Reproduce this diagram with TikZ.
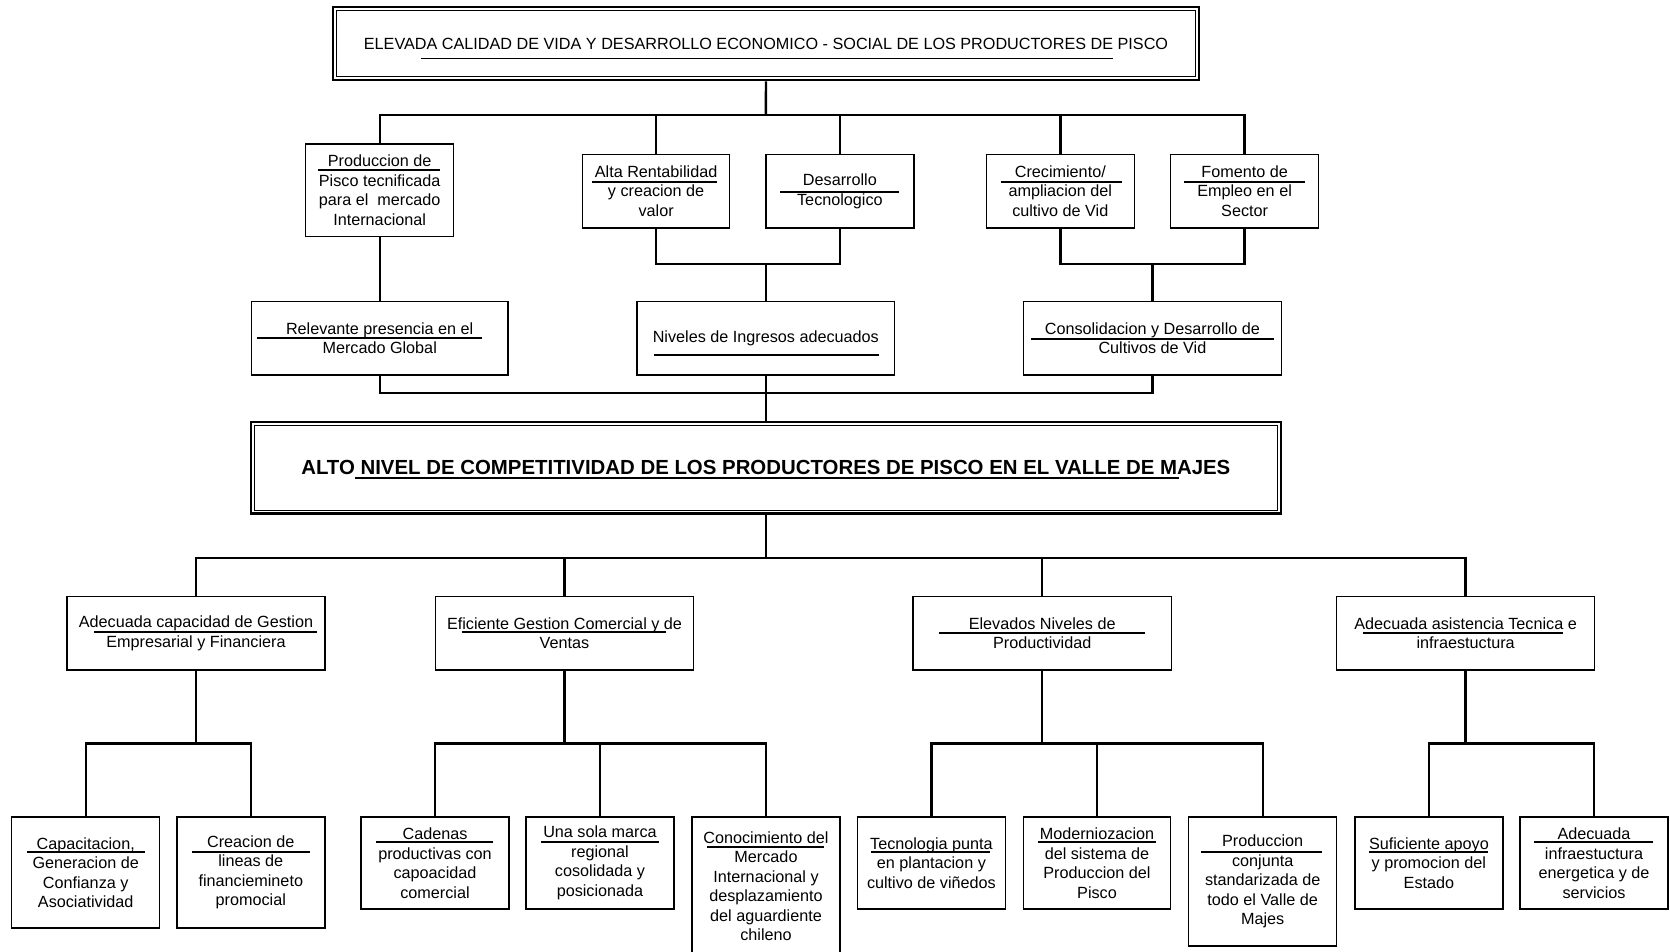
\documentclass[tikz,border=0pt]{standalone}
\usepackage{fontspec}
\setmainfont{Liberation Sans}
\begin{document}
\begin{tikzpicture}[x=1pt,y=-1pt,
  box/.style={draw, line width=1.4pt, align=center, inner sep=0pt, font=\fontsize{16.2}{19.5}\selectfont},
  conn/.style={line width=2.4pt},
  ul/.style={line width=1.3pt},
  inner/.style={line width=1pt}]
\useasboundingbox (0,0) rectangle (1670,952);
\fill[white] (0,0) rectangle (1670,952);
% top box
\node[box, line width=2.6pt, minimum width=866, minimum height=73] (top) at (766,43.5)
  {ELEVADA CALIDAD DE VIDA Y DESARROLLO ECONOMICO - SOCIAL DE LOS PRODUCTORES DE PISCO};
\draw[inner] ([shift={(4.5,4.5)}]top.north west) rectangle ([shift={(-4.5,-4.5)}]top.south east);
% row 2
\node[box, minimum width=148, minimum height=92.7] (p1) at (379.7,190.2) {Produccion de\\Pisco tecnificada\\para el\ \ mercado\\Internacional};
\node[box, minimum width=147, minimum height=73.5] (p2) at (656.1,191.2) {Alta Rentabilidad\\y creacion de\\valor};
\node[box, minimum width=148, minimum height=73.5] (p3) at (839.9,191.2) {Desarrollo\\Tecnologico};
\node[box, minimum width=148, minimum height=73.5] (p4) at (1060.3,191.2) {Crecimiento/\\ampliacion del\\cultivo de Vid};
\node[box, minimum width=148, minimum height=73.5] (p5) at (1244.6,191.2) {Fomento de\\Empleo en el\\Sector};
% row 3
\node[box, minimum width=256.7, minimum height=73.5] (r1) at (379.7,338.2) {Relevante presencia en el\\Mercado Global};
\node[box, minimum width=257.8, minimum height=73.5] (r2) at (765.8,338.2) {Niveles de Ingresos adecuados};
\node[box, minimum width=257.7, minimum height=73.5] (r3) at (1152.4,338.2) {Consolidacion y Desarrollo de\\Cultivos de Vid};
% main box
\node[box, line width=2.6pt, minimum width=1030, minimum height=91.6, font=\fontsize{20.4}{24}\selectfont\bfseries] (main) at (765.8,467.6)
  {ALTO NIVEL DE COMPETITIVIDAD DE LOS PRODUCTORES DE PISCO EN EL VALLE DE MAJES};
\draw[inner] ([shift={(4.5,4.5)}]main.north west) rectangle ([shift={(-4.5,-4.5)}]main.south east);
% row 4
\node[box, minimum width=257.8, minimum height=73.5] (q1) at (196,633.3) {Adecuada capacidad de Gestion\\Empresarial y Financiera};
\node[box, minimum width=257.8, minimum height=73.5] (q2) at (564.5,633.3) {Eficiente Gestion Comercial y de\\Ventas};
\node[box, minimum width=258.8, minimum height=73.5] (q3) at (1042.2,633.3) {Elevados Niveles de\\Productividad};
\node[box, minimum width=257.7, minimum height=73.5] (q4) at (1465.6,633.3) {Adecuada asistencia Tecnica e\\infraestuctura};
% row 5
\node[box, minimum width=148, minimum height=111] (s1) at (85.7,872.5) {Capacitacion,\\Generacion de\\Confianza y\\Asociatividad};
\node[box, minimum width=148, minimum height=111] (s2) at (250.8,872.5) {Creacion de\\lineas de\\financiemineto\\promocial};
\node[box, minimum width=148, minimum height=92] (s3) at (435,863) {Cadenas\\productivas con\\capoacidad\\comercial};
\node[box, minimum width=148, minimum height=92] (s4) at (600,863) {Una sola marca\\regional\\cosolidada y\\posicionada};
\node[box, minimum width=148, minimum height=138] (s5) at (766,886) {Conocimiento del\\Mercado\\Internacional y\\desplazamiento\\del aguardiente\\chileno};
\node[box, minimum width=148, minimum height=92] (s6) at (931.4,863) {Tecnologia punta\\en plantacion y\\cultivo de viñedos};
\node[box, minimum width=147, minimum height=92] (s7) at (1097,863) {Moderniozacion\\del sistema de\\Produccion del\\Pisco};
\node[box, minimum width=148, minimum height=129] (s8) at (1262.7,881.5) {Produccion\\conjunta\\standarizada de\\todo el Valle de\\Majes};
\node[box, minimum width=148, minimum height=92] (s9) at (1428.9,863) {Suficiente apoyo\\y promocion del\\Estado};
\node[box, minimum width=148, minimum height=92] (s10) at (1594,863) {Adecuada\\infraestuctura\\energetica y de\\servicios};
% junctions
\coordinate (j1) at (765.8,115);
\coordinate (j2) at (765.8,264);
\coordinate (j3) at (1152.4,264);
\coordinate (j4) at (765.8,393);
\coordinate (j5) at (765.8,558);
\coordinate (j6) at (196,743.4);
\coordinate (j7) at (564.5,743.4);
\coordinate (j8) at (1042.2,743.4);
\coordinate (j9) at (1465.6,743.4);
% connectors
\draw[conn] (top.south) -- (j1);
\draw[conn] (p1.north) |- (j1) -| (p5.north);
\draw[conn] (p2.north) |- (j1);
\draw[conn] (p3.north) |- (j1);
\draw[conn] (p4.north) |- (j1);
\draw[conn] (p2.south) |- (j2) -| (p3.south);
\draw[conn] (j2) -- (r2.north);
\draw[conn] (p4.south) |- (j3) -| (p5.south);
\draw[conn] (j3) -- (r3.north);
\draw[conn] (p1.south) -- (r1.north);
\draw[conn] (r1.south) |- (j4) -| (r3.south);
\draw[conn] (r2.south) -- (main.north);
\draw[conn] (main.south) -- (j5);
\draw[conn] (q1.north) |- (j5) -| (q4.north);
\draw[conn] (q2.north) |- (j5);
\draw[conn] (q3.north) |- (j5);
\draw[conn] (q1.south) -- (j6);
\draw[conn] (s1.north) |- (j6) -| (s2.north);
\draw[conn] (q2.south) -- (j7);
\draw[conn] (s3.north) |- (j7) -| (s5.north);
\draw[conn] (s4.north) |- (j7);
\draw[conn] (q3.south) -- (j8);
\draw[conn] (s6.north) |- (j8) -| (s8.north);
\draw[conn] (s7.north) |- (j8);
\draw[conn] (q4.south) -- (j9);
\draw[conn] (s9.north) |- (j9) -| (s10.north);
% underlines
\foreach \xa/\xb/\yy in {421/1113/58.6, 318/440/170, 592/717/182, 780/899/192, 1001/1122/182, 1184/1305/182,
  257/482/338, 654/879/355, 1031/1274/339, 355/1179/478,
  94/317/632, 462/666/632, 939/1145/633, 1363/1563/633,
  27/145/852, 192/310/852, 376/493/842, 541/659/842, 707/824/847, 871/990/852,
  1038/1156/842, 1201/1322/852, 1369/1488/852, 1534/1653/842}
  \draw[ul] (\xa,\yy) -- (\xb,\yy);
\end{tikzpicture}
\end{document}
